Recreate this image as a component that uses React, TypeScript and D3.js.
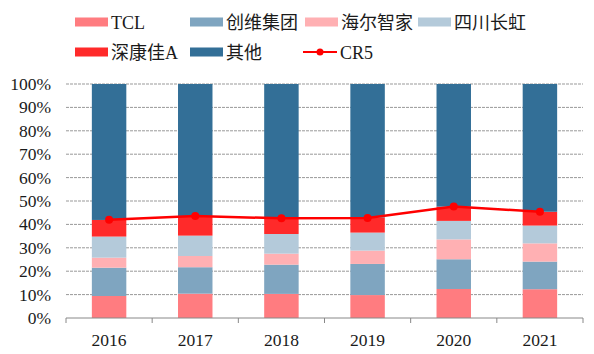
import React, { useEffect, useRef } from 'react';
import * as d3 from 'd3';

const years = ['2016', '2017', '2018', '2019', '2020', '2021'];
const tcl = [9.4, 10.4, 10.3, 9.8, 12.4, 12.3];
const skyworth = [12.1, 11.3, 12.5, 13.3, 12.7, 11.8];
const haier = [4.3, 4.8, 4.7, 5.7, 8.5, 7.8];
const changhong = [9.0, 8.7, 8.4, 7.7, 7.9, 7.6];
const konka = [7.1, 8.1, 6.5, 6.5, 6.1, 5.9];
const others = [58.1, 56.7, 57.6, 57.0, 52.4, 54.6];
const cr5 = [42.0, 43.6, 42.6, 42.7, 47.6, 45.4];
const yTicks = [0, 10, 20, 30, 40, 50, 60, 70, 80, 90, 100];

const seriesNames = ['TCL', '创维集团', '海尔智家', '四川长虹', '深康佳A', '其他'];
const seriesColors = ['#FF7C80', '#7FA5C0', '#FFB0B3', '#B4CADA', '#FF2A2A', '#336F97'];

const App = () => {
  const ref = useRef<SVGSVGElement>(null);

  useEffect(() => {
    const svg = d3.select(ref.current);
    svg.selectAll('*').remove();

    const margin = { top: 84, left: 66, right: 11, bottom: 36 };
    const width = 594;
    const height = 354;
    const font = "'Liberation Serif', 'Times New Roman', 'DejaVu Serif', 'Noto Sans CJK SC', serif";
    const textColor = '#1a1a1a';

    const x = d3.scaleBand().domain(years).range([margin.left, width - margin.right]).paddingInner(0.6).paddingOuter(0.3);
    const xOuter = d3.scaleBand().domain(years).range([margin.left, width - margin.right]);
    const y = d3.scaleLinear().domain([0, 100]).range([height - margin.bottom, margin.top]);

    // gridlines
    svg.append('g')
      .selectAll('line')
      .data(yTicks.filter(d => d > 0))
      .enter()
      .append('line')
      .attr('x1', margin.left)
      .attr('x2', width - margin.right)
      .attr('y1', d => y(d))
      .attr('y2', d => y(d))
      .attr('stroke', '#999')
      .attr('stroke-width', 1)
      .attr('stroke-dasharray', '3,1');

    // y labels
    svg.append('g')
      .selectAll('text')
      .data(yTicks)
      .enter()
      .append('text')
      .attr('x', 51)
      .attr('y', d => y(d) + 6)
      .attr('text-anchor', 'end')
      .attr('font-family', font)
      .attr('font-size', 17.5)
      .attr('fill', textColor)
      .text(d => d + '%');

    // stacked bars
    const rows = years.map((yr, i) => ({
      year: yr,
      TCL: tcl[i],
      创维集团: skyworth[i],
      海尔智家: haier[i],
      四川长虹: changhong[i],
      深康佳A: konka[i],
      其他: others[i],
    }));
    const stack = d3.stack<any>().keys(seriesNames)(rows);

    svg.append('g')
      .selectAll('g')
      .data(stack)
      .enter()
      .append('g')
      .attr('fill', (d, i) => seriesColors[i])
      .selectAll('rect')
      .data(d => d)
      .enter()
      .append('rect')
      .attr('x', d => x(d.data.year)!)
      .attr('width', x.bandwidth())
      .attr('y', d => y(Math.min(d[1], 100)))
      .attr('height', d => y(d[0]) - y(Math.min(d[1], 100)));

    // x axis
    const axis = svg.append('g')
      .attr('transform', `translate(0, ${y(0)})`);
    axis.append('line')
      .attr('x1', margin.left)
      .attr('x2', width - margin.right)
      .attr('stroke', '#888');
    axis.selectAll('.tick')
      .data(d3.range(years.length + 1))
      .enter()
      .append('line')
      .attr('x1', i => margin.left + i * xOuter.step())
      .attr('x2', i => margin.left + i * xOuter.step())
      .attr('y1', 0)
      .attr('y2', 5)
      .attr('stroke', '#888');
    axis.selectAll('text')
      .data(years)
      .enter()
      .append('text')
      .attr('x', d => xOuter(d)! + xOuter.bandwidth() / 2)
      .attr('y', 28)
      .attr('text-anchor', 'middle')
      .attr('font-family', font)
      .attr('font-size', 17.5)
      .attr('fill', textColor)
      .text(d => d);

    // CR5 line
    const line = d3.line<number>()
      .x((d, i) => x(years[i])! + x.bandwidth() / 2)
      .y(d => y(d));
    svg.append('path')
      .datum(cr5)
      .attr('d', line)
      .attr('fill', 'none')
      .attr('stroke', '#FF0000')
      .attr('stroke-width', 2.5);
    svg.append('g')
      .selectAll('circle')
      .data(cr5)
      .enter()
      .append('circle')
      .attr('cx', (d, i) => x(years[i])! + x.bandwidth() / 2)
      .attr('cy', d => y(d))
      .attr('r', 4)
      .attr('fill', '#FF0000');

    // legend
    const legendPos = [
      [75, 22], [190, 22], [305, 22], [418, 22],
      [75, 52], [190, 52], [303, 52],
    ];
    const legendNames = [...seriesNames, 'CR5'];
    const lg = svg.append('g');
    legendNames.forEach((name, i) => {
      const [lx, ly] = legendPos[i];
      const g = lg.append('g');
      if (name === 'CR5') {
        g.append('line')
          .attr('x1', lx).attr('x2', lx + 34)
          .attr('y1', ly).attr('y2', ly)
          .attr('stroke', '#FF0000').attr('stroke-width', 2);
        g.append('circle').attr('cx', lx + 17).attr('cy', ly).attr('r', 3.5).attr('fill', '#FF0000');
      } else {
        g.append('rect')
          .attr('x', lx).attr('y', ly - 4.5)
          .attr('width', 33).attr('height', 9)
          .attr('fill', seriesColors[i]);
      }
      g.append('text')
        .attr('x', lx + (name === 'CR5' ? 37 : 36))
        .attr('y', ly + 6.5)
        .attr('font-family', font)
        .attr('font-size', 18)
        .attr('fill', textColor)
        .text(name);
    });
  }, []);

  return (
    <svg ref={ref} width={594} height={354} style={{ position: 'absolute', left: 0, top: 0, background: '#fff' }} />
  );
};

export default App;
